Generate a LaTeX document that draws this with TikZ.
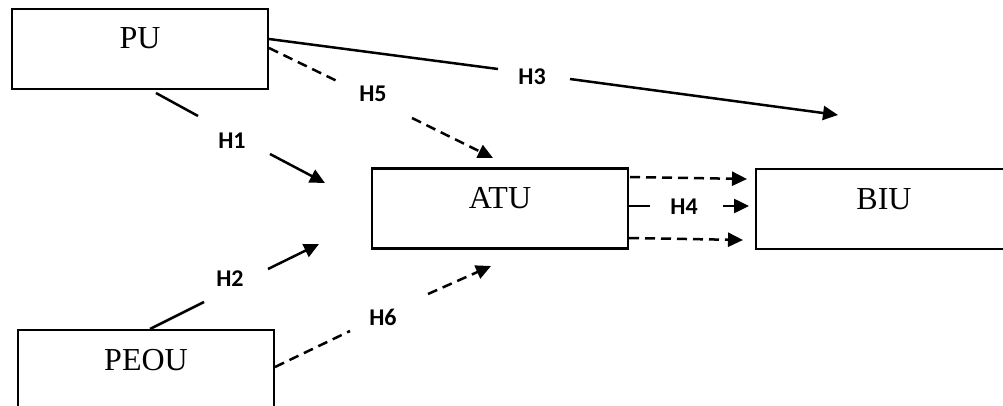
\documentclass[tikz,border=0pt]{standalone}
\usepackage{fontspec}
\setmainfont{Liberation Serif}
\newfontfamily\lblfont{Carlito}
\usetikzlibrary{arrows.meta}
\begin{document}
\begin{tikzpicture}[x=1pt,y=-1pt,
  box/.style={draw=black,line width=2.5pt,minimum width=256pt,minimum height=80pt,
    inner sep=0pt,text height=12pt,text depth=12pt,
    font=\fontsize{32}{34}\selectfont},
  hlabel/.style={font=\lblfont\bfseries\fontsize{24}{26}\selectfont,inner sep=0pt},
  conn/.style={line width=2.5pt},
  dashconn/.style={line width=2.5pt,dash pattern=on 10pt off 6pt},
  tip/.style={-{Triangle[length=15pt,width=14pt]}}
]
\path[use as bounding box] (0,0) rectangle (1003,406);
\clip (0,0) rectangle (1003,406);
% boxes
\node[box] (PU)   at (140,49)  {PU};
\node[box] (ATU)  at (500,208.5) {ATU};
\node[box] (BIU)  at (884,209) {BIU};
\node[box] (PEOU) at (146,370) {PEOU};
% labels
\node[hlabel] (H1) at (232,141) {H1};
\node[hlabel] (H2) at (230,279) {H2};
\node[hlabel] (H3) at (532,77)  {H3};
\node[hlabel] (H4) at (684,207) {H4};
\node[hlabel] (H5) at (373,94)  {H5};
\node[hlabel] (H6) at (383,317) {H6};
% connector coordinates
\coordinate (h1s) at (156,93);  \coordinate (h1m) at (198,116);
\coordinate (h1n) at (270,154); \coordinate (h1e) at (325,183);
\coordinate (h2s) at (150,329); \coordinate (h2m) at (204,302);
\coordinate (h2n) at (268,269); \coordinate (h2e) at (319,244);
\coordinate (h3s) at (269,39);  \coordinate (h3m) at (498,69);
\coordinate (h3n) at (570,79);  \coordinate (h3e) at (838,115);
\coordinate (h5s) at (269,48);  \coordinate (h5m) at (339,82);
\coordinate (h5n) at (412,118); \coordinate (h5e) at (493,158);
\coordinate (h6s) at (275,367); \coordinate (h6m) at (350,331);
\coordinate (h6n) at (428,294); \coordinate (h6e) at (491,266);
\coordinate (h4at) at (630,177); \coordinate (h4bt) at (747,179);
\coordinate (h4am) at (629,206); \coordinate (h4mm) at (650,206);
\coordinate (h4nm) at (723,206); \coordinate (h4bm) at (749,206);
\coordinate (h4ab) at (629,238); \coordinate (h4bb) at (743,240);
% connectors
\draw[conn] (h1s) -- (h1m);
\draw[conn,tip] (h1n) -- (h1e);
\draw[conn] (h2s) -- (h2m);
\draw[conn,tip] (h2n) -- (h2e);
\draw[conn] (h3s) -- (h3m);
\draw[conn,tip] (h3n) -- (h3e);
\draw[dashconn] (h5s) -- (h5m);
\draw[dashconn,tip] (h5n) -- (h5e);
\draw[dashconn] (h6s) -- (h6m);
\draw[dashconn,tip] (h6n) -- (h6e);
\draw[dashconn,tip] (h4at) -- (h4bt);
\draw[conn] (h4am) -- (h4mm);
\draw[conn,tip] (h4nm) -- (h4bm);
\draw[dashconn,tip] (h4ab) -- (h4bb);
\end{tikzpicture}
\end{document}
